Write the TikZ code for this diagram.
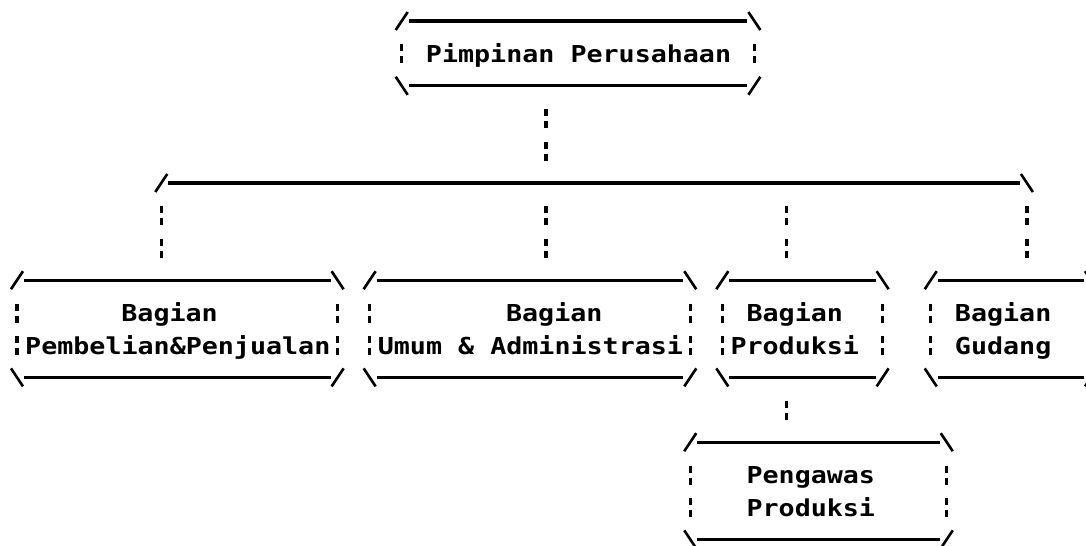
\documentclass[tikz,border=0pt]{standalone}
\usepackage{fontspec}
\newfontfamily\dotfont[FakeStretch=1.145]{DejaVu Sans Mono}
\usetikzlibrary{calc}

% one column = one printed character, one row = one printed line
\tikzset{
  rule/.style={line width=3.2pt},
  slash/.style={line width=2.6pt},
  brk/.style={line width=3.4pt, dash pattern=on 7pt off 5pt on 7pt off 13.4pt},
  lbl/.style={font=\dotfont\bfseries\fontsize{23.3}{28}\selectfont, inner sep=0pt, anchor=base west},
}

% frame: left col, right col, top row, bottom row
\newcommand{\asciibox}[4]{%
  \draw[slash] (#1-0.374,#3+0.278) -- (#1+0.374,#3-0.278);
  \draw[slash] (#2-0.374,#3-0.278) -- (#2+0.374,#3+0.278);
  \draw[slash] (#1-0.374,#4-0.278) -- (#1+0.374,#4+0.278);
  \draw[slash] (#2-0.374,#4+0.278) -- (#2+0.374,#4-0.278);
  \draw[rule] (#1+0.44,#3) -- (#2-0.44,#3);
  \draw[rule] (#1+0.44,#4) -- (#2-0.44,#4);
  \draw[brk] (#1,#3+0.722) -- (#1,#4-0.691);
  \draw[brk] (#2,#3+0.722) -- (#2,#4-0.691);
}

\begin{document}
\begin{tikzpicture}[x=16.03pt, y=-32.4pt]
    \useasboundingbox (-1.0605,-0.6481) rectangle (66.688,16.2037);

    % boxes
    \asciibox{24}{46}{0}{2}
    \asciibox{0}{20}{8}{11}
    \asciibox{22}{42}{8}{11}
    \asciibox{44}{54}{8}{11}
    \asciibox{57}{67}{8}{11}
    \asciibox{42}{58}{13}{16}

    % texts
    \node[lbl] (top) at (25.5,1.28) {Pimpinan Perusahaan};
    \node[lbl] (pemA) at (6.5,9.28) {Bagian};
    \node[lbl] (pemB) at (0.5,10.28) {Pembelian\&Penjualan};
    \node[lbl] (umA) at (30.5,9.28) {Bagian};
    \node[lbl] (umB) at (22.5,10.28) {Umum \& Administrasi};
    \node[lbl] (proA) at (45.5,9.28) {Bagian};
    \node[lbl] (proB) at (44.5,10.28) {Produksi};
    \node[lbl] (gudA) at (58.5,9.28) {Bagian};
    \node[lbl] (gudB) at (58.5,10.28) {Gudang};
    \node[lbl] (pengA) at (45.5,14.28) {Pengawas};
    \node[lbl] (pengB) at (45.5,15.28) {Produksi};

    % bus line
    \coordinate (busL) at (9,5);
    \coordinate (busR) at (63,5);
    \draw[slash] ($(busL)+(-0.374,0.278)$) -- ($(busL)+(0.374,-0.278)$);
    \draw[slash] ($(busR)+(-0.374,-0.278)$) -- ($(busR)+(0.374,0.278)$);
    \draw[rule] ($(busL)+(0.44,0)$) -- ($(busR)+(-0.44,0)$);

    % connectors
    \coordinate (topfoot) at (33,2.722);
    \coordinate (bushead) at (33,4.309);
    \draw[brk] (topfoot) -- (bushead);
    \foreach \c/\n in {9/pem,33/um,48/pro,63/gud} {
        \coordinate (\n drop) at (\c,5.722);
        \coordinate (\n head) at (\c,7.309);
        \draw[brk] (\n drop) -- (\n head);
    }
    \coordinate (profoot) at (48,11.722);
    \coordinate (penghead) at (48,12.309);
    \draw[brk] (profoot) -- (penghead);
\end{tikzpicture}
\end{document}
